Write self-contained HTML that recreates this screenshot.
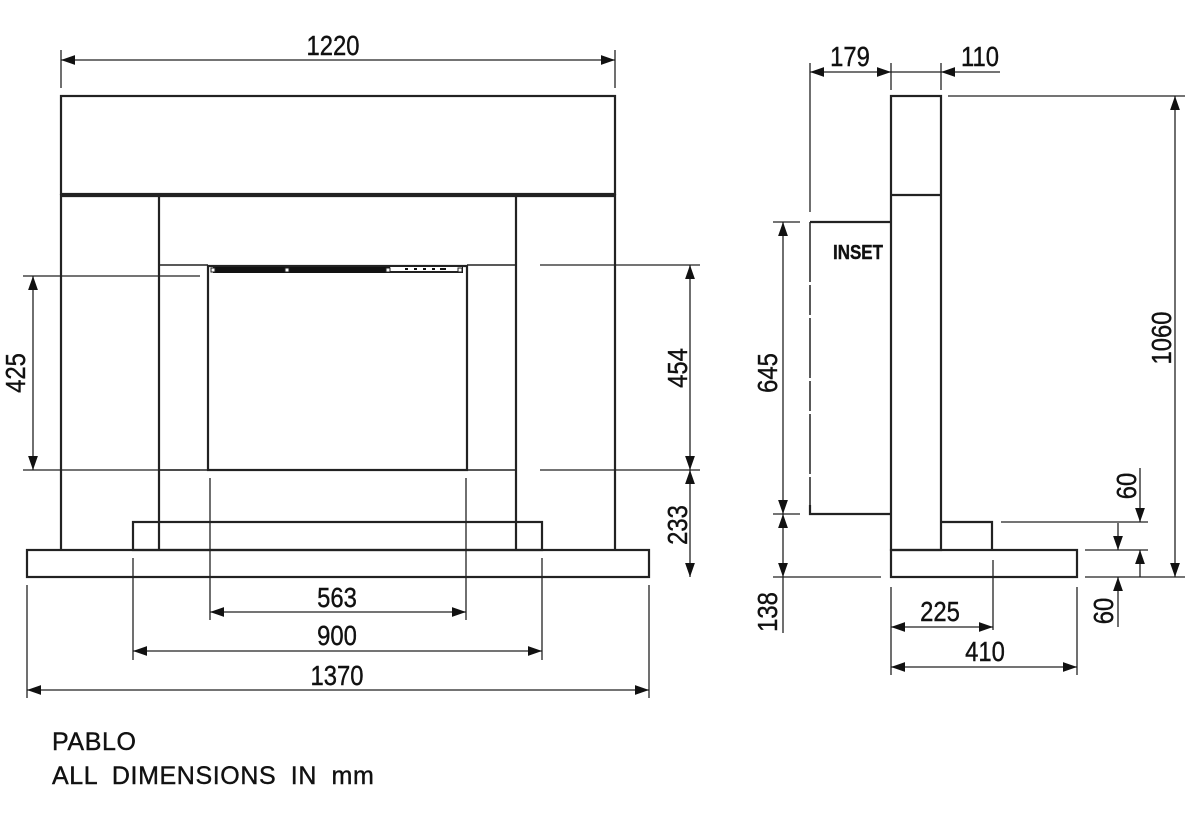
<!DOCTYPE html>
<html><head><meta charset="utf-8"><style>
html,body{margin:0;padding:0;background:#fff;}
svg{display:block;}
text{font-family:"Liberation Sans",sans-serif;fill:#111;stroke:#111;stroke-width:0.4;}
</style></head><body>
<svg width="1200" height="819" viewBox="0 0 1200 819" xmlns="http://www.w3.org/2000/svg">
<defs>
<marker id="a" viewBox="0 0 10 10" refX="10" refY="5" markerWidth="14" markerHeight="14" markerUnits="userSpaceOnUse" orient="auto-start-reverse"><path d="M0,1.5 L10,5 L0,8.5z" fill="#111"/></marker>
</defs>
<g stroke="#222" fill="none">
<g stroke-width="2.2">
<rect x="61" y="96" width="554" height="98"/>
<line x1="61" y1="196" x2="615" y2="196"/>
<line x1="61" y1="194" x2="61" y2="550"/>
<line x1="615" y1="194" x2="615" y2="550"/>
<line x1="159" y1="196" x2="159" y2="550"/>
<line x1="516" y1="196" x2="516" y2="550"/>
<rect x="208" y="266" width="259" height="204"/>
<rect x="133" y="522" width="409" height="28"/>
<rect x="27" y="550" width="622" height="27"/>
</g>
<g stroke-width="1.5">
<line x1="159" y1="265" x2="208" y2="265"/>
<line x1="467" y1="265" x2="516" y2="265"/>
<line x1="159" y1="470" x2="208" y2="470"/>
<line x1="467" y1="470" x2="516" y2="470"/>
</g>
<rect x="213" y="267" width="250" height="6" fill="#111" stroke="none"/>
<rect x="390" y="267" width="72" height="6" fill="#fff" stroke="none"/>
<line x1="390" y1="272" x2="462" y2="272" stroke-width="2"/>
<g fill="#111" stroke="none"><rect x="405" y="268" width="3" height="2"/><rect x="414" y="268" width="3" height="2"/><rect x="423" y="268" width="3" height="2"/><rect x="432" y="268" width="3" height="2"/><rect x="440" y="268" width="6" height="2"/></g>
<g fill="#fff" stroke="#222" stroke-width="1"><rect x="211" y="268" width="4" height="4"/><rect x="285" y="268" width="4" height="4"/><rect x="386" y="268" width="4" height="4"/><rect x="458" y="268" width="4" height="4"/></g>

<g stroke-width="1.3">
<line x1="61" y1="50" x2="61" y2="88"/><line x1="615" y1="50" x2="615" y2="88"/>
<line x1="61" y1="60" x2="615" y2="60" marker-start="url(#a)" marker-end="url(#a)"/>
<line x1="23" y1="276" x2="200" y2="276"/><line x1="23" y1="470" x2="200" y2="470"/>
<line x1="33" y1="276" x2="33" y2="470" marker-start="url(#a)" marker-end="url(#a)"/>
<line x1="540" y1="265" x2="700" y2="265"/><line x1="540" y1="470" x2="700" y2="470"/>
<line x1="690" y1="265" x2="690" y2="470" marker-start="url(#a)" marker-end="url(#a)"/>
<line x1="690" y1="470" x2="690" y2="577" marker-start="url(#a)" marker-end="url(#a)"/>
<line x1="210" y1="478" x2="210" y2="620"/><line x1="466" y1="478" x2="466" y2="620"/>
<line x1="210" y1="612" x2="466" y2="612" marker-start="url(#a)" marker-end="url(#a)"/>
<line x1="133" y1="558" x2="133" y2="660"/><line x1="542" y1="558" x2="542" y2="660"/>
<line x1="133" y1="651" x2="542" y2="651" marker-start="url(#a)" marker-end="url(#a)"/>
<line x1="27" y1="585" x2="27" y2="698"/><line x1="649" y1="585" x2="649" y2="698"/>
<line x1="27" y1="690" x2="649" y2="690" marker-start="url(#a)" marker-end="url(#a)"/>
</g>

<g stroke-width="2.2">
<rect x="891" y="96" width="50" height="454"/>
<line x1="891" y1="195" x2="941" y2="195"/>
<polyline points="810,222 891,222"/>
<polyline points="891,514 810,514 810,505"/>
<polyline points="941,522 992,522 992,550"/>
<rect x="891" y="550" width="186" height="27"/>
</g>
<line x1="810" y1="222" x2="810" y2="505" stroke-width="1.5" stroke-dasharray="60 3 30 3"/>
<g stroke-width="1.3">
<line x1="810" y1="63" x2="810" y2="212"/><line x1="891" y1="63" x2="891" y2="90"/><line x1="941" y1="63" x2="941" y2="90"/>
<line x1="810" y1="72" x2="891" y2="72" marker-start="url(#a)" marker-end="url(#a)"/>
<line x1="891" y1="72" x2="941" y2="72"/>
<line x1="1000" y1="72" x2="941" y2="72" marker-end="url(#a)"/>
<line x1="948" y1="96" x2="1185" y2="96"/>
<line x1="1175" y1="96" x2="1175" y2="577" marker-start="url(#a)" marker-end="url(#a)"/>
<line x1="773" y1="222" x2="800" y2="222"/><line x1="773" y1="514" x2="800" y2="514"/>
<line x1="773" y1="577" x2="881" y2="577"/>
<line x1="783" y1="222" x2="783" y2="514" marker-start="url(#a)" marker-end="url(#a)"/>
<line x1="783" y1="514" x2="783" y2="577" marker-start="url(#a)" marker-end="url(#a)"/>
<line x1="783" y1="577" x2="783" y2="633"/>
<line x1="1001" y1="522" x2="1148" y2="522"/>
<line x1="1085" y1="550" x2="1148" y2="550"/>
<line x1="1085" y1="577" x2="1185" y2="577"/>
<line x1="1140" y1="468" x2="1140" y2="522" marker-end="url(#a)"/>
<line x1="1140" y1="577" x2="1140" y2="550" marker-end="url(#a)"/>
<line x1="1118" y1="523" x2="1118" y2="550" marker-end="url(#a)"/>
<line x1="1118" y1="627" x2="1118" y2="577" marker-end="url(#a)"/>
<line x1="891" y1="587" x2="891" y2="675"/><line x1="993" y1="560" x2="993" y2="630"/><line x1="1077" y1="587" x2="1077" y2="675"/>
<line x1="891" y1="627" x2="993" y2="627" marker-start="url(#a)" marker-end="url(#a)"/>
<line x1="891" y1="667" x2="1077" y2="667" marker-start="url(#a)" marker-end="url(#a)"/>
</g>
</g>

<g font-size="28" text-anchor="middle">
<text transform="translate(333,55) scale(0.85,1)">1220</text>
<text transform="translate(25,373) rotate(-90) scale(0.85,1)">425</text>
<text transform="translate(687,368) rotate(-90) scale(0.85,1)">454</text>
<text transform="translate(687,525) rotate(-90) scale(0.85,1)">233</text>
<text transform="translate(337,607) scale(0.85,1)">563</text>
<text transform="translate(337,645) scale(0.85,1)">900</text>
<text transform="translate(337,685) scale(0.85,1)">1370</text>
<text transform="translate(850,66) scale(0.85,1)">179</text>
<text transform="translate(980,66) scale(0.85,1)">110</text>
<text transform="translate(1171,338) rotate(-90) scale(0.85,1)">1060</text>
<text transform="translate(777,373) rotate(-90) scale(0.85,1)">645</text>
<text transform="translate(777,612) rotate(-90) scale(0.85,1)">138</text>
<text transform="translate(1136,486) rotate(-90) scale(0.85,1)">60</text>
<text transform="translate(1113,611) rotate(-90) scale(0.85,1)">60</text>
<text transform="translate(940,621) scale(0.85,1)">225</text>
<text transform="translate(985,661) scale(0.85,1)">410</text>
</g>
<text transform="translate(858,259) scale(0.85,1)" font-size="20" font-weight="bold" text-anchor="middle">INSET</text>
<g font-size="25" letter-spacing="0.6" word-spacing="7">
<text x="52" y="750">PABLO</text>
<text x="52" y="784">ALL DIMENSIONS IN mm</text>
</g>
</svg>
</body></html>
